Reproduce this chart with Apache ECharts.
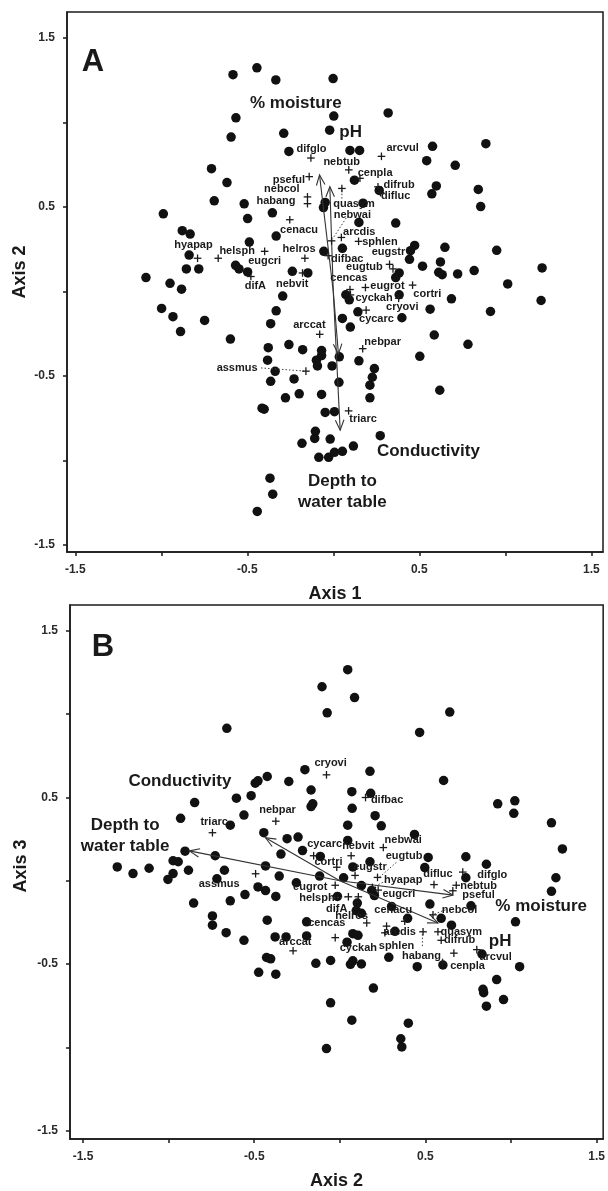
<!DOCTYPE html>
<html lang="en">
<head>
<meta charset="UTF-8">
<title>Ordination joint plot</title>
<script src="https://cdn.jsdelivr.net/npm/echarts@6/dist/echarts.min.js"></script>
<style>html,body{margin:0;background:#fff}</style>
</head>
<body>
<div id="main" style="width:608px;height:1191px"></div>
<script>
// ---- panel A : axis 1 vs axis 2 ----
var sitesA = [
  [-0.583,1.283],[-0.444,1.324],[-0.334,1.252],[-0.001,1.260],[-0.566,1.028],[0.003,1.038],[0.319,1.057],
  [-0.594,0.914],[-0.288,0.936],[-0.021,0.955],[-0.258,0.829],[0.097,0.835],[0.153,0.835],[0.577,0.859],
  [0.887,0.875],[0.543,0.774],[0.709,0.747],[-0.708,0.727],[-0.618,0.645],[0.123,0.659],[0.267,0.598],
  [0.599,0.625],[0.573,0.578],[0.843,0.604],[-0.518,0.519],[0.173,0.523],
  [-0.692,0.537],[-0.047,0.527],[-0.057,0.497],[0.857,0.503],[-0.988,0.460],[-0.354,0.466],[-0.498,0.432],
  [0.149,0.409],[0.363,0.405],[-0.878,0.360],[-0.832,0.340],[-0.332,0.328],[-0.488,0.293],[0.473,0.273],
  [0.449,0.242],[0.443,0.191],[0.649,0.262],[0.950,0.244],[-0.838,0.216],[-0.055,0.238],[0.053,0.256],
  [0.623,0.175],[-0.568,0.155],[-0.548,0.134],[-0.498,0.116],[0.519,0.150],[-0.854,0.134],[-0.782,0.134],
  [-0.238,0.120],[-0.148,0.110],[0.613,0.114],[0.633,0.100],[0.723,0.104],[0.819,0.124],[1.214,0.140],
  [0.383,0.110],[0.363,0.083],[-1.089,0.083],[-0.949,0.049],[-0.882,0.014],[1.014,0.045],[-0.294,-0.027],
  [0.073,-0.019],[0.093,-0.049],[0.383,-0.019],[0.687,-0.043],[1.208,-0.053],[-0.998,-0.100],[-0.332,-0.114],
  [0.143,-0.120],[0.563,-0.104],[0.914,-0.118],[-0.932,-0.149],[-0.748,-0.171],[0.053,-0.159],[0.399,-0.155],
  [-0.364,-0.190],[0.099,-0.210],[-0.888,-0.237],[0.587,-0.257],[-0.598,-0.281],[0.783,-0.312],[-0.378,-0.332],
  [-0.258,-0.314],[-0.178,-0.344],[-0.068,-0.349],[-0.068,-0.379],[0.503,-0.383],[-0.382,-0.406],[-0.098,-0.406],
  [0.149,-0.410],[-0.092,-0.440],[-0.007,-0.440],[0.035,-0.386],
  [-0.338,-0.472],[0.239,-0.456],[0.227,-0.507],[0.213,-0.554],[-0.364,-0.531],[-0.228,-0.517],[0.033,-0.537],
  [0.619,-0.584],[-0.278,-0.629],[-0.198,-0.605],[-0.068,-0.609],[0.213,-0.629],[-0.414,-0.690],[-0.402,-0.696],
  [-0.047,-0.715],[0.007,-0.711],[-0.104,-0.827],[-0.108,-0.869],[-0.182,-0.898],[-0.018,-0.873],[0.117,-0.914],
  [-0.084,-0.981],[-0.027,-0.981],[0.007,-0.951],[0.053,-0.945],[0.273,-0.853],[-0.368,-1.104],[-0.352,-1.199],
  [-0.442,-1.301]
];
var speciesA = [
  ['difglo',-0.13,0.79],['arcvul',0.28,0.80],['nebtub',0.09,0.72],['cenpla',0.155,0.67],['pseful',-0.14,0.68],
  ['difrub',0.26,0.62],['difluc',0.275,0.585],['nebcol',-0.15,0.56],['habang',-0.15,0.52],['quasym',0.05,0.61],
  ['nebwai',-0.01,0.30],['cenacu',-0.253,0.425],['arcdis',0.047,0.32],['sphlen',0.147,0.297],['hyapap',-0.789,0.197],
  ['helsph',-0.669,0.197],['eugcri',-0.399,0.238],['helros',-0.165,0.197],['eugstr',0.327,0.161],['eugtub',0.347,0.134],
  ['difbac',-0.03,0.212],['cencas',0.097,0.012],['difA',-0.479,0.089],['nebvit',-0.179,0.110],['eugrot',0.187,0.024],
  ['cortri',0.461,0.038],['cyckah',0.10,-0.02],['cryovi',0.38,-0.04],['cycarc',0.191,-0.110],['arccat',-0.079,-0.253],
  ['nebpar',0.171,-0.338],['assmus',-0.159,-0.471],['triarc',0.089,-0.706]
];
// where each species name is written (data units)
var namePosA = [
  [-0.127,0.843],[0.403,0.849],[0.049,0.768],[0.243,0.701],[-0.258,0.662],
  [0.383,0.631],[0.363,0.564],[-0.299,0.605],[-0.333,0.537],[0.121,0.521],
  [0.111,0.456],[-0.199,0.364],[0.151,0.354],[0.271,0.293],[-0.813,0.277],
  [-0.559,0.238],[-0.399,0.181],[-0.199,0.252],[0.321,0.232],[0.181,0.144],
  [0.081,0.191],[0.091,0.079],[-0.453,0.032],[-0.239,0.045],[0.315,0.034],
  [0.547,-0.012],[0.237,-0.039],[0.401,-0.090],[0.251,-0.165],[-0.139,-0.200],
  [0.287,-0.298],[-0.559,-0.450],[0.173,-0.751]
];
var leadersA = [[[-0.42,-0.452],[-0.17,-0.47]],[[0.05,0.60],[0.05,0.545]],[[0.075,0.435],[-0.005,0.31]]];
var vectorsA = [['% moisture',-0.08,0.69],['pH',-0.02,0.62],['Conductivity',0.03,-0.37],['Depth to\nwater table',0.04,-0.82]];
var vectorNamePosA = [[-0.218,1.114],[0.101,0.941],[0.553,-0.945],[0.053,-1.182]];

// ---- panel B : axis 2 vs axis 3 ----
var sitesB = [
  [0.046,1.265],[-0.104,1.163],[0.086,1.098],[-0.074,1.007],[0.642,1.011],[-0.660,0.914],[0.466,0.889],
  [-0.204,0.666],[0.176,0.656],[0.606,0.601],[-0.494,0.585],[-0.478,0.599],[-0.424,0.625],[-0.298,0.595],
  [-0.168,0.544],[0.070,0.534],[0.180,0.524],[-0.604,0.495],[-0.518,0.510],[-0.848,0.469],[-0.158,0.461],
  [-0.168,0.445],[0.072,0.434],[0.922,0.461],[1.022,0.479],[1.016,0.404],[-0.930,0.374],[-0.560,0.394],
  [0.206,0.390],[0.242,0.329],[1.236,0.347],[-0.640,0.333],[-0.444,0.288],[0.046,0.333],[0.436,0.278],
  [-0.308,0.252],[-0.244,0.262],[0.046,0.242],[-0.904,0.177],[-0.728,0.150],[-0.344,0.160],[-0.114,0.146],
  [-0.218,0.181],[1.300,0.191],[0.516,0.140],[0.736,0.144],[0.856,0.099],[-0.974,0.120],[-0.944,0.114],
  [-1.300,0.083],[-1.208,0.043],[-1.114,0.075],[-0.884,0.063],[-0.974,0.043],[-1.004,0.008],[-0.674,0.063],
  [-0.434,0.089],[0.076,0.083],[0.176,0.114],[0.496,0.079],[-0.354,0.028],[-0.254,-0.012],[-0.118,0.028],
  [0.022,0.018],[0.126,-0.029],[0.736,0.018],[1.262,0.018],[-0.718,0.012],[-0.478,-0.037],[-0.434,-0.059],
  [-0.554,-0.083],[-0.374,-0.094],[0.186,-0.059],[0.202,-0.089],[-0.014,-0.094],[1.236,-0.063],[-0.854,-0.134],
  [-0.640,-0.120],[0.102,-0.134],[0.302,-0.154],[0.526,-0.140],[0.766,-0.150],[0.096,-0.179],[0.126,-0.195],
  [0.592,-0.225],[0.652,-0.266],[1.026,-0.246],[-0.744,-0.211],[-0.744,-0.266],[-0.424,-0.236],[-0.194,-0.246],
  [0.396,-0.225],[0.322,-0.303],[-0.664,-0.311],[-0.560,-0.357],[-0.378,-0.337],[-0.314,-0.337],[-0.194,-0.331],
  [0.076,-0.317],[0.106,-0.327],[0.042,-0.368],[0.830,-0.439],[0.286,-0.459],[-0.428,-0.460],[-0.404,-0.468],
  [-0.140,-0.495],[-0.054,-0.478],[0.062,-0.501],[0.076,-0.480],[0.126,-0.499],[0.452,-0.515],[0.602,-0.505],
  [1.050,-0.515],[-0.474,-0.549],[-0.374,-0.560],[0.916,-0.592],[0.196,-0.643],[0.836,-0.651],[0.840,-0.671],
  [0.956,-0.712],[0.856,-0.752],[-0.054,-0.732],[0.070,-0.836],[0.400,-0.854],[0.356,-0.947],[0.362,-0.996],
  [-0.078,-1.006]
];
var speciesB = [
  ['cryovi',-0.078,0.635],['difbac',0.150,0.499],['nebpar',-0.374,0.357],['triarc',-0.744,0.288],['cycarc',-0.153,0.150],
  ['nebvit',0.066,0.150],['nebwai',0.254,0.199],['cortri',-0.018,0.081],['eugstr',0.089,0.032],['eugtub',0.22,0.02],
  ['assmus',-0.492,0.042],['hyapap',0.19,-0.04],['difluc',0.550,-0.023],['nebtub',0.680,-0.027],['difglo',0.718,0.052],
  ['pseful',0.660,-0.06],['eugrot',-0.027,-0.027],['eugcri',0.224,-0.056],['helsph',0.050,-0.096],['difA',0.108,-0.096],
  ['cenacu',0.379,-0.243],['helros',0.157,-0.253],['nebcol',0.544,-0.204],['cencas',-0.027,-0.341],['arcdis',0.263,-0.312],
  ['quasym',0.573,-0.306],['difrub',0.592,-0.357],['arccat',-0.273,-0.420],['cyckah',0.273,-0.272],['sphlen',0.486,-0.306],
  ['habang',0.666,-0.434],['cenpla',0.60,-0.49],['arcvul',0.800,-0.413]
];
var namePosB = [
  [-0.054,0.706],[0.276,0.485],[-0.364,0.424],[-0.734,0.351],[-0.089,0.219],
  [0.108,0.209],[0.370,0.245],[-0.066,0.115],[0.176,0.081],[0.375,0.150],
  [-0.705,-0.017],[0.370,0.007],[0.573,0.042],[0.81,-0.03],[0.89,0.035],
  [0.81,-0.085],[-0.173,-0.037],[0.345,-0.082],[-0.134,-0.105],[-0.018,-0.168],
  [0.312,-0.174],[0.069,-0.210],[0.699,-0.174],[-0.076,-0.253],[0.350,-0.308],
  [0.709,-0.306],[0.699,-0.357],[-0.260,-0.365],[0.108,-0.400],[0.331,-0.390],
  [0.477,-0.448],[0.746,-0.509],[0.910,-0.454]
];
var leadersB = [[[0.33,0.11],[0.23,0.02]],[[0.27,0.0],[0.20,-0.035]],[[-0.056,-0.105],[0.045,-0.096]],
  [[0.618,-0.174],[0.55,-0.20]],[[0.482,-0.32],[0.482,-0.40]]];
var vectorsB = [['% moisture',0.661,-0.086],['pH',0.573,-0.253],['Conductivity',-0.434,0.258],['Depth to\nwater table',-0.879,0.179]];
var vectorNamePosB = [[1.176,-0.154],[0.936,-0.36],[-0.934,0.597],[-1.254,0.27]];

var tickVals = [-1.5, -1, -0.5, 0, 0.5, 1, 1.5];
var labelVals = [-1.5, -0.5, 0.5, 1.5];

var FONT = '"Liberation Sans", Arial, sans-serif';
var INK = '#1a1a1a';

var myChart = echarts.init(document.getElementById('main'));

function axis(grid, min, max, name, gap) {
    return {
        gridIndex: grid, type: 'value', min: min, max: max,
        name: name, nameLocation: 'middle', nameGap: gap || 32,
        nameTextStyle: {fontSize: 18, fontWeight: 'bold', color: INK, fontFamily: FONT},
        axisLine: {onZero: false, lineStyle: {color: INK, width: 1.5}},
        axisTick: {show: true, inside: false, length: 4, customValues: tickVals, lineStyle: {color: INK, width: 1.5}},
        axisLabel: {customValues: labelVals, margin: 12, fontSize: 12, fontWeight: 'bold', color: '#2a2a2a', fontFamily: FONT},
        splitLine: {show: false}
    };
}

function textSeries(grid, pos, texts, size, lh) {
    return {
        type: 'custom', coordinateSystem: 'cartesian2d', xAxisIndex: grid, yAxisIndex: grid,
        data: pos, silent: true, z: 6,
        renderItem: function (params, api) {
            var p = api.coord([api.value(0), api.value(1)]);
            return {type: 'text', x: p[0], y: p[1], style: {
                text: texts[params.dataIndex], fill: INK, align: 'center', verticalAlign: 'middle',
                font: 'bold ' + size + 'px ' + FONT, lineHeight: lh || size + 2}};
        }
    };
}

function crossSeries(grid, sp) {
    return {
        type: 'custom', coordinateSystem: 'cartesian2d', xAxisIndex: grid, yAxisIndex: grid,
        data: sp.map(function (s) { return [s[1], s[2]]; }), silent: true, z: 5,
        renderItem: function (params, api) {
            var p = api.coord([api.value(0), api.value(1)]);
            var s = 3.8;
            return {type: 'group', children: [
                {type: 'line', shape: {x1: p[0] - s, y1: p[1], x2: p[0] + s, y2: p[1]}, style: {stroke: INK, lineWidth: 1.3}},
                {type: 'line', shape: {x1: p[0], y1: p[1] - s, x2: p[0], y2: p[1] + s}, style: {stroke: INK, lineWidth: 1.3}}
            ]};
        }
    };
}

function arrowSeries(grid, vecs) {
    return {
        type: 'custom', coordinateSystem: 'cartesian2d', xAxisIndex: grid, yAxisIndex: grid,
        data: vecs.map(function (v) { return [v[1], v[2]]; }), silent: true, z: 4,
        renderItem: function (params, api) {
            var o = api.coord([0, 0]);
            var t = api.coord([api.value(0), api.value(1)]);
            var a = Math.atan2(t[1] - o[1], t[0] - o[0]);
            var h = 11, w = 0.4;
            var p1 = [t[0] - h * Math.cos(a - w), t[1] - h * Math.sin(a - w)];
            var p2 = [t[0] - h * Math.cos(a + w), t[1] - h * Math.sin(a + w)];
            return {type: 'group', children: [
                {type: 'line', shape: {x1: o[0], y1: o[1], x2: t[0], y2: t[1]}, style: {stroke: '#333', lineWidth: 1.1}},
                {type: 'polyline', shape: {points: [p1, t, p2]}, style: {stroke: '#333', lineWidth: 1.1, fill: null}}
            ]};
        }
    };
}

function leaderSeries(grid, segs) {
    return {
        type: 'custom', coordinateSystem: 'cartesian2d', xAxisIndex: grid, yAxisIndex: grid,
        data: segs.map(function (s) { return [s[0][0], s[0][1], s[1][0], s[1][1]]; }), silent: true, z: 4,
        renderItem: function (params, api) {
            var a = api.coord([api.value(0), api.value(1)]);
            var b = api.coord([api.value(2), api.value(3)]);
            return {type: 'line', shape: {x1: a[0], y1: a[1], x2: b[0], y2: b[1]},
                style: {stroke: '#444', lineWidth: 1, lineDash: [1.5, 2]}};
        }
    };
}

function dots(grid, pts) {
    return {type: 'scatter', xAxisIndex: grid, yAxisIndex: grid, data: pts, symbolSize: 9.5,
        itemStyle: {color: '#111', opacity: 1}, silent: true, z: 3};
}

myChart.setOption({
    animation: false,
    backgroundColor: '#fff',
    grid: [
        {left: 67, top: 12, width: 536, height: 540, show: true, borderColor: INK, borderWidth: 1.5},
        {left: 70, top: 605, width: 536, height: 543, show: true, borderColor: INK, borderWidth: 1.5}
    ],
    xAxis: [axis(0, -1.548, 1.568, 'Axis 1', 33), axis(1, -1.576, 1.538, 'Axis 2', 33)],
    yAxis: [axis(0, -1.541, 1.654, ''), axis(1, -1.548, 1.653, '')],
    graphic: [
        {type: 'text', x: 20, y: 272, rotation: Math.PI / 2, style: {text: 'Axis 2', font: 'bold 18px ' + FONT, fill: INK, align: 'center', verticalAlign: 'middle'}},
        {type: 'text', x: 21, y: 866, rotation: Math.PI / 2, style: {text: 'Axis 3', font: 'bold 18px ' + FONT, fill: INK, align: 'center', verticalAlign: 'middle'}},
        {type: 'text', x: 93, y: 62, style: {text: 'A', font: 'bold 31px ' + FONT, fill: INK, align: 'center', verticalAlign: 'middle'}},
        {type: 'text', x: 103, y: 647, style: {text: 'B', font: 'bold 31px ' + FONT, fill: INK, align: 'center', verticalAlign: 'middle'}}
    ],
    series: [
        dots(0, sitesA),
        arrowSeries(0, vectorsA),
        leaderSeries(0, leadersA),
        crossSeries(0, speciesA),
        textSeries(0, namePosA, speciesA.map(function (s) { return s[0]; }), 11),
        textSeries(0, vectorNamePosA, vectorsA.map(function (v) { return v[0]; }), 17, 21),
        dots(1, sitesB),
        arrowSeries(1, vectorsB),
        leaderSeries(1, leadersB),
        crossSeries(1, speciesB),
        textSeries(1, namePosB, speciesB.map(function (s) { return s[0]; }), 11),
        textSeries(1, vectorNamePosB, vectorsB.map(function (v) { return v[0]; }), 17, 21)
    ]
});
</script>
</body>
</html>
